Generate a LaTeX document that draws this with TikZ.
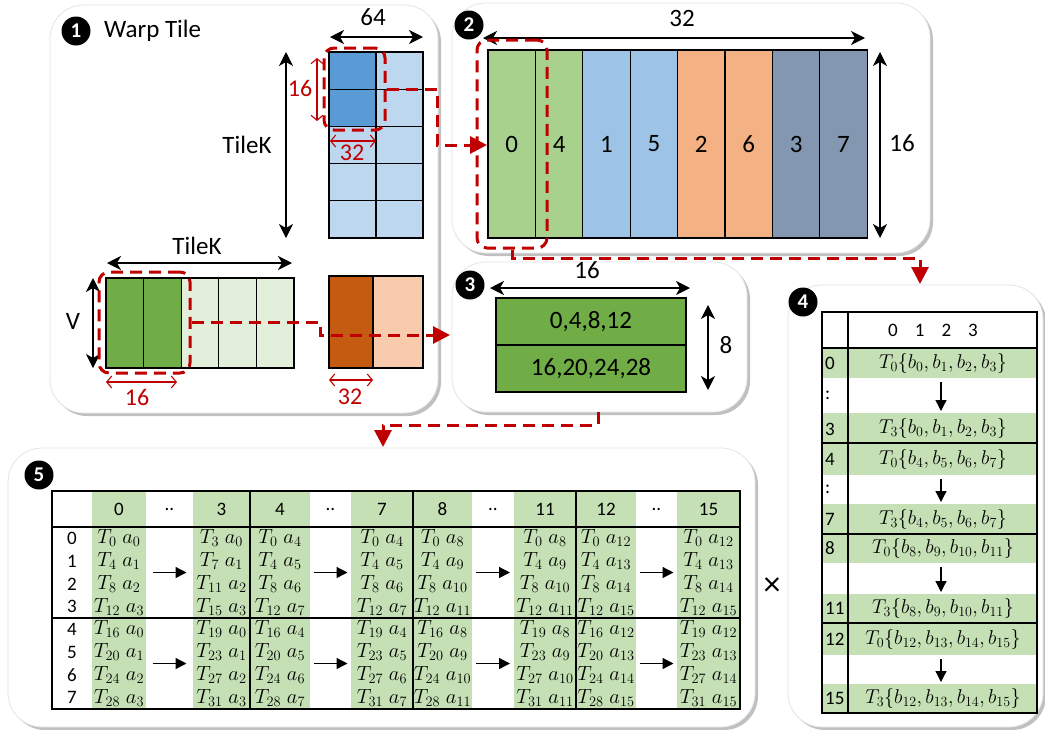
\RequirePackage{fix-cm}
\documentclass[tikz,border=0pt]{standalone}
\usepackage{fontspec}
\setmainfont{Carlito}
\usetikzlibrary{arrows.meta,shadows}
\newcommand{\myfs}[1]{\fontsize{#1}{#1}\selectfont}
\definecolor{dred}{HTML}{C00000}
\definecolor{bdark}{HTML}{5B9BD5}
\definecolor{blight}{HTML}{BDD7EE}
\definecolor{gdark}{HTML}{70AD47}
\definecolor{glight}{HTML}{E2EFDA}
\definecolor{odark}{HTML}{C55A11}
\definecolor{olight}{HTML}{F8CBAD}
\definecolor{gtwo}{HTML}{A9D18E}
\definecolor{btwo}{HTML}{9DC3E6}
\definecolor{otwo}{HTML}{F4B183}
\definecolor{stwo}{HTML}{8497B0}
\definecolor{gband}{HTML}{C5E0B4}
\tikzset{
 panel/.style={fill=white,draw=black!10,line width=0.8pt,rounded corners=34pt,
   drop shadow={shadow xshift=3pt,shadow yshift=-3pt,opacity=0.35,fill=black!70}},
 numc/.style={circle,fill=black,text=white,minimum size=29pt,inner sep=0pt,font=\myfs{21}\bfseries},
 cellb/.style={draw=black,line width=1.2pt,inner sep=0pt,font=\myfs{25}},
 dimarr/.style={{Stealth[length=14pt,width=14pt,inset=4pt]}-{Stealth[length=14pt,width=14pt,inset=4pt]},line width=1.3pt},
 rdim/.style={dred,line width=1.1pt,{Straight Barb[length=5pt,width=12pt]}-{Straight Barb[length=5pt,width=12pt]}},
 rsel/.style={draw=dred,line width=3pt,dash pattern=on 12pt off 7pt,rounded corners=10pt,inner sep=0pt},
 rconn/.style={dred,line width=3pt,dash pattern=on 12pt off 7pt,-{Triangle[length=17pt,width=17pt]}},
 lab/.style={font=\myfs{25},inner sep=0pt},
 rlab/.style={font=\myfs{24},text=dred,inner sep=0pt},
 tlab/.style={font=\myfs{19},inner sep=0pt},
 mlab/.style={font=\myfs{20},inner sep=0pt},
 mcell/.style={font=\myfs{20.5},inner sep=0pt},
 tline/.style={line width=1.2pt,draw=black},
 darr/.style={line width=1.3pt,-{Triangle[length=11pt,width=11pt]}},
}
\begin{document}
\begin{tikzpicture}[x=1pt,y=-1pt]
\useasboundingbox (0,0) rectangle (1045,729);
\fill[white] (0,0) rectangle (1045,729);

% ================= Panel 1 =================
\path[panel] (50,5) rectangle (438,413);
\node[numc] (n1) at (76,31) {1};
\node[lab,anchor=west] (wt) at (104,31) {Warp Tile};
% B tile
\foreach \r in {0,...,4}{\foreach \c in {0,1}{
  \node[cellb,fill=blight,minimum width=47pt,minimum height=37.2pt] (B-\r-\c) at ({352.5+47*\c},{70.6+37.2*\r}) {};}}
\node[cellb,fill=bdark,minimum width=47pt,minimum height=37.2pt] (Bd0) at (352.5,70.6) {};
\node[cellb,fill=bdark,minimum width=47pt,minimum height=37.2pt] (Bd1) at (352.5,107.8) {};
\coordinate (d64a) at (330,37); \coordinate (d64b) at (423,37);
\draw[dimarr] (d64a) -- (d64b);
\node[lab] (l64) at (373,17) {64};
\coordinate (tka) at (286,52); \coordinate (tkb) at (286,238);
\draw[dimarr] (tka) -- (tkb);
\node[lab] (ltk1) at (247,145) {TileK};
% A tile
\foreach \c in {0,...,4}{
  \node[cellb,fill=glight,minimum width=37.6pt,minimum height=90pt] (A-\c) at ({124.8+37.6*\c},323) {};}
\node[cellb,fill=gdark,minimum width=37.6pt,minimum height=90pt] (Ad0) at (124.8,323) {};
\node[cellb,fill=gdark,minimum width=37.6pt,minimum height=90pt] (Ad1) at (162.4,323) {};
\coordinate (tkc) at (107,263); \coordinate (tkd) at (292,263);
\draw[dimarr] (tkc) -- (tkd);
\node[lab] (ltk2) at (197,246) {TileK};
\coordinate (va) at (93,278); \coordinate (vb) at (93,368);
\draw[dimarr] (va) -- (vb);
\node[lab] (lv) at (73,321) {V};
% C tile
\node[cellb,fill=odark,minimum width=44pt,minimum height=92pt] (C0) at (351,322) {};
\node[cellb,fill=olight,minimum width=50pt,minimum height=92pt] (C1) at (398,322) {};
% red dims
\coordinate (r1a) at (317,58); \coordinate (r1b) at (317,121);
\draw[rdim] (r1a) -- (r1b);
\node[rlab] (lr1) at (300,88) {16};
\coordinate (r2a) at (330,141); \coordinate (r2b) at (376,141);
\draw[rdim] (r2a) -- (r2b);
\node[rlab] (lr2) at (352,153) {32};
\coordinate (r3a) at (106,382); \coordinate (r3b) at (177,382);
\draw[rdim] (r3a) -- (r3b);
\node[rlab] (lr3) at (137,397) {16};
\coordinate (r4a) at (329,380); \coordinate (r4b) at (373,380);
\draw[rdim] (r4a) -- (r4b);
\node[rlab] (lr4) at (350,397) {32};
% selections
\node[rsel,minimum width=61pt,minimum height=82pt] (bsel) at (354.5,89) {};
\node[rsel,minimum width=91pt,minimum height=101pt] (asel) at (144.5,322.5) {};

% ================= Panel 2 =================
\path[panel] (452,3) rectangle (930,253);
\node[numc] (n2) at (469,25) {2};
\foreach \i/\lab/\col in {0/0/gtwo,1/4/gtwo,2/1/btwo,3/5/btwo,4/2/otwo,5/6/otwo,6/3/stwo,7/7/stwo}{
  \node[cellb,fill=\col,minimum width=47.4pt,minimum height=188pt] (M-\i) at ({511.7+47.4*\i},144) {\lab};}
\coordinate (d32a) at (483,38); \coordinate (d32b) at (865,38);
\draw[dimarr] (d32a) -- (d32b);
\node[lab] (l32) at (682,18) {32};
\coordinate (d16a) at (880,52); \coordinate (d16b) at (880,238);
\draw[dimarr] (d16a) -- (d16b);
\node[lab] (l16) at (902,143) {16};
\node[rsel,minimum width=70pt,minimum height=208pt] (psel) at (512,144) {};

% ================= Panel 3 =================
\path[panel] (452,262) rectangle (747,412);
\node[numc] (n3) at (470,285) {3};
\node[cellb,fill=gdark,minimum width=190pt,minimum height=47pt] (W0) at (591,321.5) {0,4,8,12};
\node[cellb,fill=gdark,minimum width=190pt,minimum height=47pt] (W1) at (591,368.5) {16,20,24,28};
\coordinate (d3a) at (490,288); \coordinate (d3b) at (690,288);
\draw[dimarr] (d3a) -- (d3b);
\node[lab] (l3) at (587,270) {16};
\coordinate (d8a) at (708,305); \coordinate (d8b) at (708,390);
\draw[dimarr] (d8a) -- (d8b);
\node[lab] (l8) at (726,345) {8};

% ================= Panel 4 =================
\path[panel] (788,285) rectangle (1043,727);
\node[numc] (n4) at (803,302) {4};
\foreach \a/\b in {348/378,413/443,443/475,504/534,534/563,594/623,623/655,684/713}
  \fill[gband] (822,\a) rectangle (1037,\b);
\draw[tline] (822,312) rectangle (1037,713);
\draw[tline] (848,312) -- (848,713);
\foreach \yy in {348,443,534,623} \draw[tline] (822,\yy) -- (1037,\yy);
\node[tlab] (h4) at (933,330) {0\hspace{17pt}1\hspace{17pt}2\hspace{17pt}3};
\foreach \lab/\yy [count=\n] in {0/363,:/395,3/429,4/459,:/489,7/519,8/548.5,11/608.5,12/639,15/698.5}
  \node[tlab,anchor=west] (rl-\n) at (825,\yy) {\lab};
\foreach \g/\ya/\yb/\s/\aa/\ab in {1/363/428/0/382/411, 2/459/519/4/479/502, 3/548.5/608.5/8/567/592, 4/639/698.5/12/659/682}{
  \pgfmathtruncatemacro{\sA}{\s}
  \pgfmathtruncatemacro{\sB}{\s+1}
  \pgfmathtruncatemacro{\sC}{\s+2}
  \pgfmathtruncatemacro{\sD}{\s+3}
  \node[mlab] (tq-\g) at (943,\ya) {$T_0\{b_{\sA},b_{\sB},b_{\sC},b_{\sD}\}$};
  \node[mlab] (tr-\g) at (943,\yb) {$T_3\{b_{\sA},b_{\sB},b_{\sC},b_{\sD}\}$};
  \coordinate (ga-\g) at (941,\aa); \coordinate (gb-\g) at (941,\ab);
  \draw[darr] (ga-\g) -- (gb-\g);
}

% ================= Panel 5 =================
\path[panel] (8,448) rectangle (755,727);
\node[numc] (n5) at (39,475) {5};
\foreach \a/\b in {92/146,193/250,250/310,351/413,413/472,514/576,576/636,677/740}
  \fill[gband] (\a,491) rectangle (\b,709);
\draw[tline] (52,491) rectangle (740,709);
\foreach \yy in {527,618} \draw[tline] (52,\yy) -- (740,\yy);
\foreach \xx in {250,413,576} \draw[tline] (\xx,491) -- (\xx,709);
\foreach \lab/\xx [count=\n] in {0/119,../169.5,3/221.5,4/280,../330.5,7/382,8/442.5,../493,11/545,12/606,../656.5,15/708.5}
  \node[tlab] (hd-\n) at (\xx,509) {\lab};
\foreach \i in {0,...,7}{
  \pgfmathsetmacro{\yR}{538.4+22.75*\i}
  \node[tlab] (row-\i) at (72,\yR) {\i};}
\foreach \k/\xa/\xw/\xb in {0/119/169.5/221.5, 1/280/330.5/382, 2/442.5/493/545, 3/606/656.5/708.5}{
  \foreach \i in {0,...,3}{
    \pgfmathtruncatemacro{\pI}{4*\k+\i}
    \pgfmathtruncatemacro{\pA}{4*\i}
    \pgfmathtruncatemacro{\pB}{4*\i+3*(\k==0)}
    \pgfmathtruncatemacro{\pC}{16+4*\i}
    \pgfmathtruncatemacro{\pD}{19+4*\i}
    \pgfmathsetmacro{\yT}{538.4+22.75*\i}
    \pgfmathsetmacro{\yB}{629.4+22.75*\i}
    \node[mcell] (ua-\k-\i) at (\xa,\yT) {$T_{\pA}\;a_{\pI}$};
    \node[mcell] (ub-\k-\i) at (\xb,\yT) {$T_{\pB}\;a_{\pI}$};
    \node[mcell] (uc-\k-\i) at (\xa,\yB) {$T_{\pC}\;a_{\pI}$};
    \node[mcell] (ud-\k-\i) at (\xb,\yB) {$T_{\pD}\;a_{\pI}$};
  }
  \coordinate (wa-\k) at ({\xw-17},572.5); \coordinate (wb-\k) at ({\xw+17},572.5);
  \coordinate (wc-\k) at ({\xw-17},663.5); \coordinate (wd-\k) at ({\xw+17},663.5);
  \draw[darr] (wa-\k) -- (wb-\k);
  \draw[darr] (wc-\k) -- (wd-\k);
}
\node[font=\myfs{34},inner sep=0pt] (times) at (772,587) {×};

% ================= Red connectors =================
\coordinate (k1) at (437,145); \coordinate (t1) at (487,145);
\draw[rconn] (bsel.east) -| (k1) -- (t1);
\coordinate (k2) at (320,335); \coordinate (t2) at (450,335);
\draw[rconn] (asel.east) -| (k2) -- (t2);
\coordinate (k3) at (920,258); \coordinate (t3) at (920,284);
\draw[rconn] (psel.south) |- (k3) -- (t3);
\coordinate (s4) at (598,412); \coordinate (k4) at (383,425); \coordinate (t4) at (383,447);
\draw[rconn] (s4) |- (k4) -- (t4);
\end{tikzpicture}
\end{document}
